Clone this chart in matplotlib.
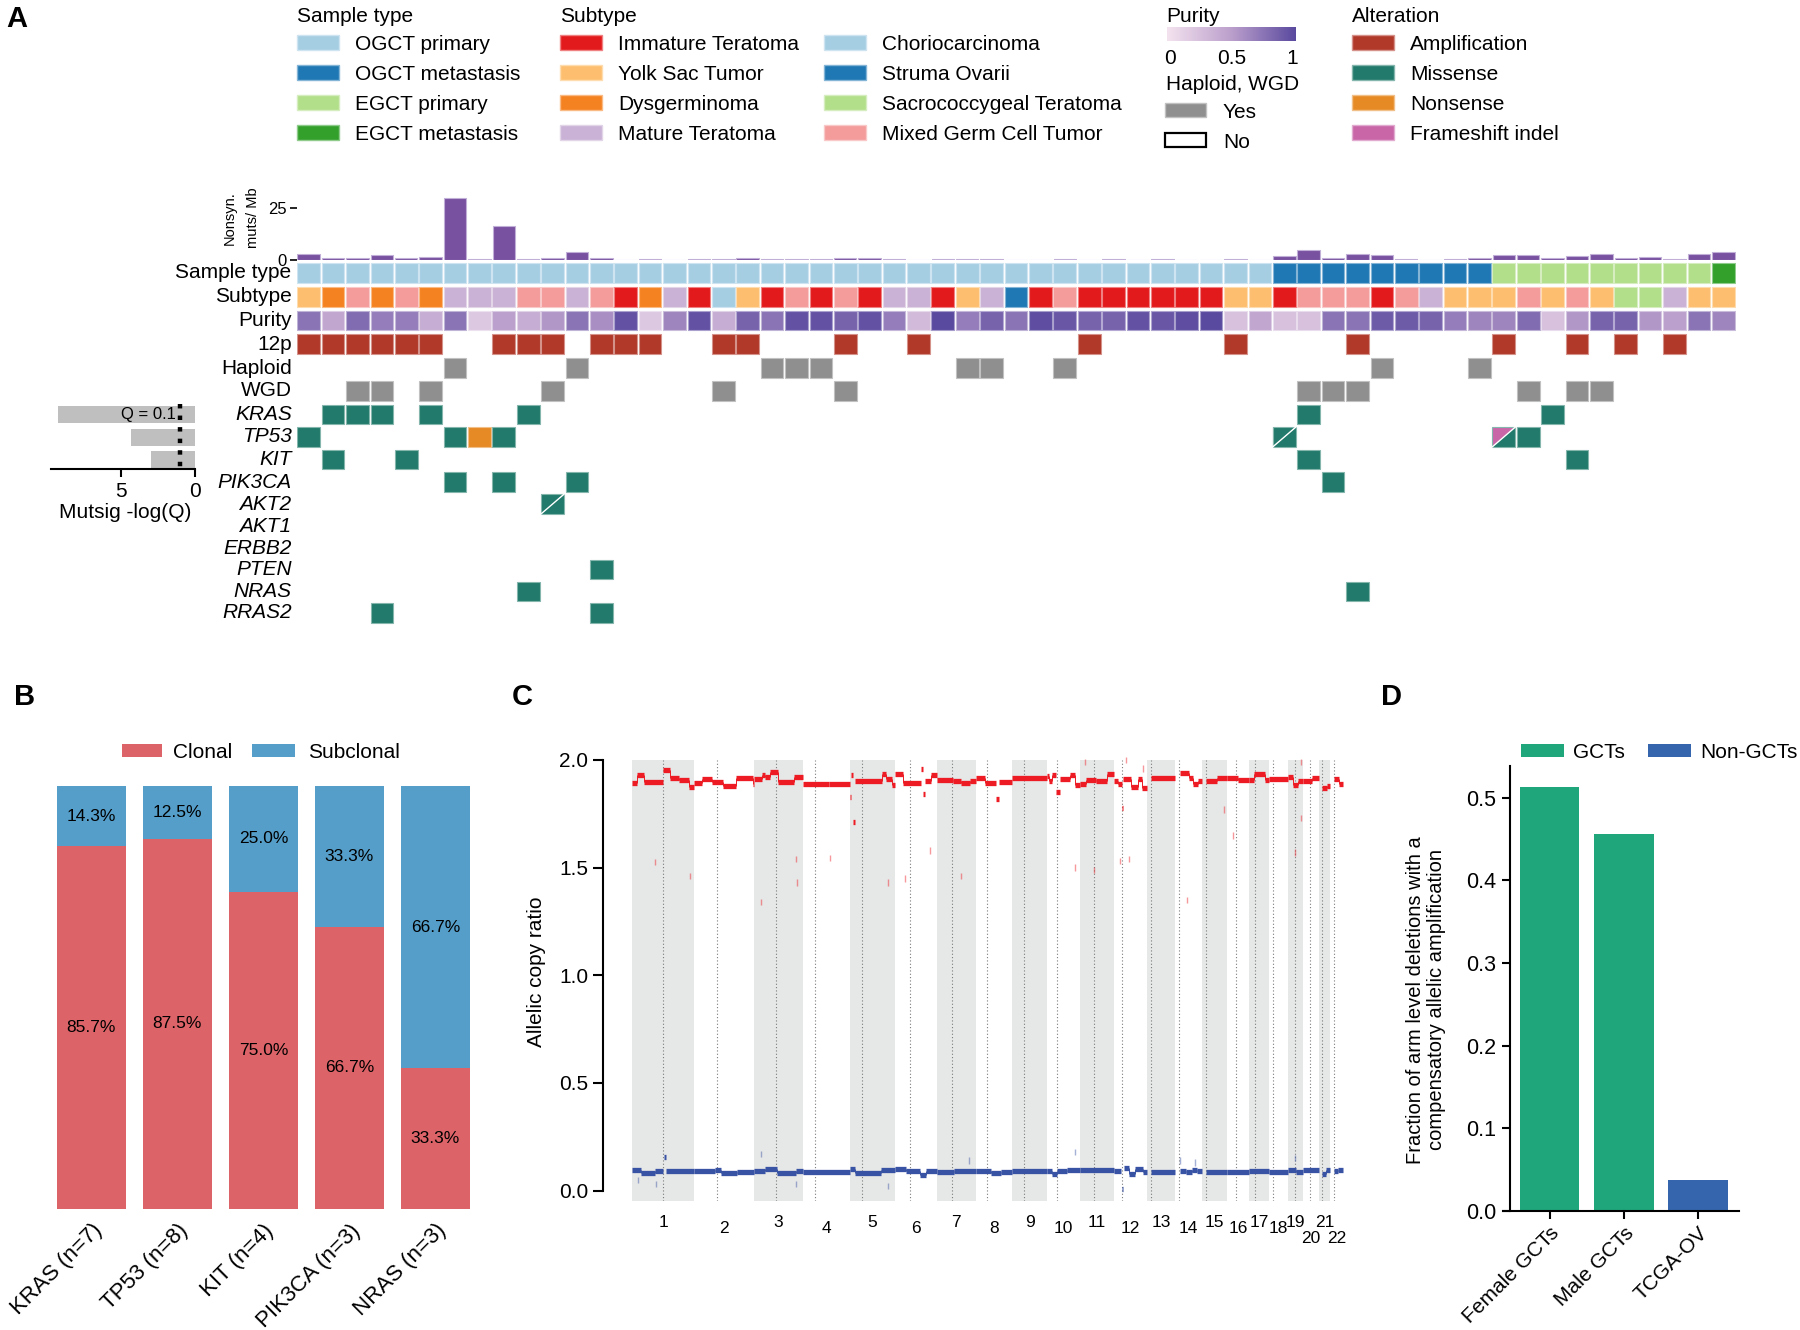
import numpy as np
import matplotlib
matplotlib.use("Agg")
import matplotlib.pyplot as plt
from matplotlib.patches import Rectangle, Polygon
from matplotlib.colors import LinearSegmentedColormap, to_rgb

plt.rcParams['font.family'] = ['Liberation Sans', 'DejaVu Sans']
plt.rcParams['axes.linewidth'] = 1.5

W, H = 1800, 1330

# ---------------- Panel A: oncoprint data ----------------
n_samples = 59
sample_type = ['OP'] * 40 + ['OM'] * 9 + ['EP'] * 9 + ['EM']
subtype = ['YS', 'DG', 'MG', 'DG', 'MG', 'DG', 'MT', 'MT', 'MT', 'MG',
           'MG', 'MT', 'MG', 'IT', 'DG', 'MT', 'IT', 'CC', 'YS', 'IT',
           'MG', 'IT', 'MG', 'IT', 'MT', 'MT', 'IT', 'YS', 'MT', 'SO',
           'IT', 'MG', 'IT', 'IT', 'IT', 'IT', 'IT', 'IT', 'YS', 'YS',
           'IT', 'MG', 'MG', 'MG', 'IT', 'MG', 'MT', 'YS', 'YS', 'YS',
           'MG', 'YS', 'MG', 'YS', 'ST', 'ST', 'MT', 'YS', 'YS']
purity = [0.75, 0.45, 0.8, 0.7, 0.7, 0.4, 0.75, 0.2, 0.5, 0.4,
          0.55, 0.75, 0.6, 0.95, 0.2, 0.65, 0.95, 0.4, 0.85, 0.75,
          0.95, 0.95, 0.85, 0.95, 0.7, 0.3, 1.0, 0.7, 0.85, 0.75,
          0.98, 0.92, 0.85, 0.85, 0.95, 0.92, 0.98, 1.0, 0.25, 0.45,
          0.25, 0.25, 0.75, 0.75, 0.9, 0.9, 0.85, 0.7, 0.65, 0.65,
          0.8, 0.25, 0.55, 0.85, 0.85, 0.55, 0.5, 0.75, 0.65]
tmb = [3.2, 1.1, 1.0, 2.4, 1.0, 1.4, 30.0, 0.5, 16.7, 0.6,
       0.9, 4.2, 0.9, 0.3, 0.6, 0.2, 0.6, 0.5, 1.1, 0.5,
       0.5, 0.5, 1.1, 1.1, 0.5, 0.2, 0.8, 0.8, 0.8, 0.2,
       0.2, 0.6, 0.2, 0.8, 0.2, 0.5, 0.2, 0.2, 0.6, 0.2,
       1.9, 5.0, 1.0, 3.0, 2.7, 0.5, 0.2, 0.6, 0.9, 2.4,
       2.7, 1.1, 2.2, 3.0, 1.1, 1.8, 0.5, 3.0, 4.0]
# sample numbers (1-based) carrying each event
amp_12p = [1, 2, 3, 4, 5, 6, 9, 10, 11, 13, 14, 15, 18, 19, 23, 26, 33, 39, 44, 50, 53, 55, 57]
haploid = [7, 12, 20, 21, 22, 28, 29, 32, 45, 49]
wgd = [3, 4, 6, 11, 18, 23, 42, 43, 44, 51, 53, 54]
# M = missense, N = nonsense, F = frameshift indel; two letters = two events
kras_mut = [(2, 'M'), (3, 'M'), (4, 'M'), (6, 'M'), (10, 'M'), (42, 'M'), (52, 'M')]
tp53_mut = [(1, 'M'), (7, 'M'), (8, 'N'), (9, 'M'), (41, 'MM'), (50, 'FM'), (51, 'M')]
kit_mut = [(2, 'M'), (5, 'M'), (42, 'M'), (53, 'M')]
pik3ca_mut = [(7, 'M'), (9, 'M'), (12, 'M'), (43, 'M')]
akt2_mut = [(11, 'MM')]
akt1_mut = []
erbb2_mut = []
pten_mut = [(13, 'M')]
nras_mut = [(10, 'M'), (44, 'M')]
rras2_mut = [(4, 'M'), (13, 'M')]
mutsig_genes = ['KRAS', 'TP53', 'KIT']
mutsig_logq = [9.3, 4.35, 3.0]

sample_type_colors = {'OP': '#a6cee3', 'OM': '#1f78b4', 'EP': '#b2df8a', 'EM': '#33a02c'}
sample_type_labels = {'OP': 'OGCT primary', 'OM': 'OGCT metastasis', 'EP': 'EGCT primary', 'EM': 'EGCT metastasis'}
subtype_colors = {'IT': '#e31a1c', 'YS': '#fdbf6f', 'DG': '#f58220', 'MT': '#cab2d6',
                  'CC': '#a6cee3', 'SO': '#1f78b4', 'ST': '#b2df8a', 'MG': '#f49b9b'}
subtype_labels = {'IT': 'Immature Teratoma', 'YS': 'Yolk Sac Tumor', 'DG': 'Dysgerminoma',
                  'MT': 'Mature Teratoma', 'CC': 'Choriocarcinoma', 'SO': 'Struma Ovarii',
                  'ST': 'Sacrococcygeal Teratoma', 'MG': 'Mixed Germ Cell Tumor'}
alt_colors = {'A': '#b0392a', 'M': '#217a6b', 'N': '#e68a26', 'F': '#c966a8'}
gray_yes = '#8f8f8f'
purity_cmap = LinearSegmentedColormap.from_list('purity', ['#f4e3ef', '#bb9fcc', '#5a4a9f'])

# ---------------- Panel B data ----------------
b_genes = ['KRAS (n=7)', 'TP53 (n=8)', 'KIT (n=4)', 'PIK3CA (n=3)', 'NRAS (n=3)']
b_clonal = [85.7, 87.5, 75.0, 66.7, 33.3]
b_subclonal = [14.3, 12.5, 25.0, 33.3, 66.7]

# ---------------- Panel C data (hg19, Mb) ----------------
chrom_len = [249.3, 243.2, 198.0, 191.2, 180.9, 171.1, 159.1, 146.4, 141.2, 135.5, 135.0,
             133.9, 115.2, 107.3, 102.5, 90.4, 81.2, 78.1, 59.1, 63.0, 48.1, 51.3]
centromere = [125.0, 93.3, 91.0, 50.4, 48.4, 61.0, 59.9, 45.6, 49.0, 40.2, 53.7,
              35.8, 17.9, 17.6, 19.0, 36.6, 24.0, 17.2, 26.5, 27.5, 13.2, 14.7]
# (chromosome, start, end, allelic copy ratio)
major_segs = [
    (1, 0, 20, 1.895), (1, 20, 48, 1.929), (1, 48, 122, 1.898), (1, 122, 152, 1.953),
    (1, 152, 190, 1.915), (1, 190, 229, 1.909), (1, 229, 249.3, 1.873),
    (2, 0, 31, 1.895), (2, 31, 75, 1.913), (2, 75, 116, 1.899), (2, 116, 170, 1.879),
    (2, 170, 238, 1.915), (2, 238, 243.2, 1.89),
    (3, 0, 32, 1.912), (3, 32, 45, 1.93), (3, 45, 65, 1.92), (3, 65, 97, 1.945),
    (3, 97, 164, 1.897), (3, 164, 198, 1.923),
    (4, 0, 105, 1.888), (4, 105, 191.2, 1.89),
    (5, 0, 5, 1.83), (5, 5, 13, 1.93), (5, 13, 20, 1.71), (5, 20, 129, 1.90),
    (5, 129, 147, 1.935), (5, 147, 172, 1.913), (5, 172, 180.9, 1.886),
    (6, 0, 34, 1.937), (6, 34, 106, 1.891), (6, 106, 114, 1.96), (6, 114, 122, 1.84),
    (6, 122, 149, 1.90), (6, 149, 171.1, 1.93),
    (7, 0, 65, 1.907), (7, 65, 100, 1.90), (7, 100, 133, 1.895), (7, 133, 159.1, 1.90),
    (8, 0, 38, 1.914), (8, 38, 82, 1.893), (8, 82, 92, 1.82), (8, 92, 146.4, 1.897),
    (9, 0, 141.2, 1.915),
    (10, 0, 10, 1.925), (10, 10, 22, 1.90), (10, 22, 36, 1.93), (10, 36, 55, 1.85),
    (10, 55, 95, 1.91), (10, 95, 115, 1.93), (10, 115, 135.5, 1.886),
    (11, 0, 23, 1.89), (11, 23, 62, 1.906), (11, 62, 108, 1.90), (11, 108, 135, 1.933),
    (12, 0, 18, 1.90), (12, 18, 34, 1.89), (12, 34, 38, 1.775), (12, 38, 70, 1.91),
    (12, 70, 97, 1.875), (12, 97, 115, 1.91), (12, 115, 133.9, 1.868),
    (13, 19, 115.2, 1.914),
    (14, 19, 55, 1.94), (14, 55, 73, 1.915), (14, 73, 91, 1.89), (14, 91, 107.3, 1.90),
    (15, 20, 63, 1.90), (15, 63, 102.5, 1.917),
    (16, 0, 45, 1.915), (16, 45, 90.4, 1.905),
    (17, 0, 18, 1.905), (17, 18, 65, 1.933), (17, 65, 81.2, 1.905),
    (18, 0, 78.1, 1.91),
    (19, 0, 20, 1.92), (19, 20, 40, 1.885), (19, 40, 59.1, 1.90),
    (20, 0, 38, 1.90), (20, 38, 63.0, 1.915),
    (21, 14, 35, 1.868), (21, 35, 48.1, 1.88),
    (22, 16, 33, 1.91), (22, 33, 51.3, 1.89),
]
minor_segs = [
    (1, 0, 35, 0.096), (1, 35, 93, 0.083), (1, 93, 123, 0.092), (1, 128, 136, 0.157),
    (1, 136, 249.3, 0.09),
    (2, 0, 85, 0.09), (2, 85, 110, 0.097), (2, 110, 175, 0.083), (2, 175, 243.2, 0.088),
    (3, 0, 45, 0.09), (3, 45, 95, 0.098), (3, 95, 169, 0.083), (3, 169, 198, 0.092),
    (4, 0, 191.2, 0.086),
    (5, 0, 20, 0.10), (5, 20, 126, 0.083), (5, 126, 180.9, 0.097),
    (6, 0, 47, 0.10), (6, 47, 103, 0.09), (6, 103, 126, 0.073), (6, 126, 171.1, 0.092),
    (7, 0, 70, 0.088), (7, 70, 159.1, 0.093),
    (8, 0, 60, 0.092), (8, 60, 100, 0.082), (8, 100, 146.4, 0.088),
    (9, 0, 141.2, 0.09),
    (10, 0, 20, 0.093), (10, 20, 40, 0.078), (10, 40, 80, 0.09), (10, 80, 135.5, 0.095),
    (11, 0, 135, 0.097),
    (12, 0, 28, 0.092), (12, 32, 36, 0.005), (12, 40, 62, 0.105), (12, 62, 85, 0.077),
    (12, 85, 120, 0.10), (12, 120, 133.9, 0.088),
    (13, 19, 115.2, 0.084),
    (14, 19, 45, 0.092), (14, 45, 70, 0.085), (14, 70, 90, 0.095), (14, 90, 107.3, 0.09),
    (15, 20, 102.5, 0.086),
    (16, 0, 90.4, 0.088),
    (17, 0, 81.2, 0.092),
    (18, 0, 78.1, 0.088),
    (19, 0, 30, 0.095), (19, 30, 59.1, 0.085),
    (20, 0, 63.0, 0.095),
    (21, 14, 30, 0.075), (21, 30, 48.1, 0.095),
    (22, 16, 30, 0.09), (22, 30, 51.3, 0.095),
]
# isolated low-confidence probes (chromosome, position, value)
major_faint = [(1, 93, 1.526), (1, 233, 1.46), (3, 30, 1.34), (3, 169, 1.54), (3, 174, 1.43),
               (4, 109, 1.545), (5, 153, 1.43), (6, 41, 1.45), (6, 145, 1.58), (7, 98, 1.46),
               (10, 115, 1.50), (11, 55, 1.49), (12, 25, 1.53), (12, 64, 1.54), (14, 48, 1.35),
               (15, 90, 1.77), (16, 25, 1.65), (19, 25, 1.57), (19, 52, 1.73), (11, 20, 1.99),
               (12, 50, 2.0), (19, 50, 1.99), (12, 120, 1.96)]
minor_faint = [(1, 95, 0.03), (1, 23, 0.05), (3, 30, 0.17), (3, 169, 0.03), (5, 153, 0.02),
               (7, 130, 0.14), (10, 115, 0.18), (14, 20, 0.14), (14, 80, 0.13), (19, 27, 0.15)]

# ---------------- Panel D data ----------------
d_groups = ['Female GCTs', 'Male GCTs', 'TCGA-OV']
d_values = [0.513, 0.456, 0.038]
d_kind = ['GCTs', 'GCTs', 'Non-GCTs']
d_colors = {'GCTs': '#1fa67a', 'Non-GCTs': '#3566ad'}


def px_axes(fig, x0, y0, x1, y1):
    ax = fig.add_axes([x0 / W, 1 - y1 / H, (x1 - x0) / W, (y1 - y0) / H])
    ax.patch.set_visible(False)
    return ax


def lighten(c, f=0.45):
    r, g, b = to_rgb(c)
    return (r + (1 - r) * f, g + (1 - g) * f, b + (1 - b) * f)


CELL_H = 19.5   # cell height in pixels
CELL_W = 0.93   # fraction of a column


def cell(ax, i, yc, color):
    x0 = i + (1 - CELL_W) / 2
    ax.add_patch(Rectangle((x0, yc - CELL_H / 2), CELL_W, CELL_H, facecolor=color,
                           edgecolor=lighten(color), lw=0.8))


def split_cell(ax, i, yc, c_upper, c_lower):
    x0 = i + (1 - CELL_W) / 2
    x1 = x0 + CELL_W
    yt = yc - CELL_H / 2
    yb = yc + CELL_H / 2
    ax.add_patch(Polygon([(x0, yt), (x1, yt), (x0, yb)], closed=True, facecolor=c_upper,
                         edgecolor='none'))
    ax.add_patch(Polygon([(x1, yt), (x1, yb), (x0, yb)], closed=True, facecolor=c_lower,
                         edgecolor='none'))
    ax.add_patch(Rectangle((x0, yt), CELL_W, CELL_H, facecolor='none',
                           edgecolor=lighten(c_lower), lw=0.8))
    ax.plot([x0, x1], [yb, yt], color='white', lw=1.0)


fig = plt.figure(figsize=(W / 100, H / 100), dpi=100)

# ======================= Panel A =======================
row_names = ['Sample type', 'Subtype', 'Purity', '12p', 'Haploid', 'WGD',
             'KRAS', 'TP53', 'KIT', 'PIK3CA', 'AKT2', 'AKT1', 'ERBB2', 'PTEN', 'NRAS', 'RRAS2']
# vertical centre of each track, in figure pixels (layout)
row_y = [273, 297, 320.5, 344, 368, 391, 414.5, 437, 459.5, 482, 504, 526, 548, 569.5, 591.5, 613]
gene_rows = {'KRAS': kras_mut, 'TP53': tp53_mut, 'KIT': kit_mut, 'PIK3CA': pik3ca_mut,
             'AKT2': akt2_mut, 'AKT1': akt1_mut, 'ERBB2': erbb2_mut, 'PTEN': pten_mut,
             'NRAS': nras_mut, 'RRAS2': rras2_mut}

Y_TOP, Y_BOT = 258.0, 628.0
ax_onc = px_axes(fig, 296.5, Y_TOP, 1735.5, Y_BOT)
ax_onc.set_xlim(0, n_samples)
ax_onc.set_ylim(Y_BOT, Y_TOP)
ax_onc.axis('off')

for i in range(n_samples):
    cell(ax_onc, i, row_y[0], sample_type_colors[sample_type[i]])
    cell(ax_onc, i, row_y[1], subtype_colors[subtype[i]])
    cell(ax_onc, i, row_y[2], purity_cmap(purity[i]))
for s in amp_12p:
    cell(ax_onc, s - 1, row_y[3], alt_colors['A'])
for s in haploid:
    cell(ax_onc, s - 1, row_y[4], gray_yes)
for s in wgd:
    cell(ax_onc, s - 1, row_y[5], gray_yes)
for r, name in enumerate(row_names):
    if name in gene_rows:
        for s, kind in gene_rows[name]:
            if len(kind) == 1:
                cell(ax_onc, s - 1, row_y[r], alt_colors[kind])
            else:
                split_cell(ax_onc, s - 1, row_y[r], alt_colors[kind[0]], alt_colors[kind[1]])
        style = 'italic'
    else:
        style = 'normal'
    ax_onc.text(-0.2, row_y[r], name, ha='right', va='center', fontsize=15, style=style)

# mutation burden bars
ax_tmb = px_axes(fig, 296.5, 195.8, 1735.5, 260.3)
ax_tmb.bar(np.arange(n_samples) + 0.5, tmb, width=0.92, color='#7851a0',
           edgecolor='#c2afd8', lw=0.8)
ax_tmb.set_xlim(0, n_samples)
ax_tmb.set_ylim(0, 31)
for sp in ax_tmb.spines.values():
    sp.set_visible(False)
ax_tmb.set_xticks([])
ax_tmb.set_yticks([0, 25])
ax_tmb.tick_params(axis='y', labelsize=12, length=5, width=1.2, pad=2)

# Mutsig significance bars
ax_m = px_axes(fig, 51.3, Y_TOP, 195, Y_BOT)
gene_y = [row_y[row_names.index(g)] for g in mutsig_genes]
ax_m.barh(gene_y, mutsig_logq, height=17, color='#bfbfbf')
ax_m.set_xlim(9.77, 0)
ax_m.set_ylim(Y_BOT, Y_TOP)
ax_m.plot([1, 1], [403.5, 469], color='black', lw=3.2, linestyle=(0, (1, 1.6)))
ax_m.text(1.3, gene_y[0], 'Q = 0.1', ha='right', va='center', fontsize=12)
for k in ['left', 'right', 'top']:
    ax_m.spines[k].set_visible(False)
ax_m.spines['bottom'].set_position(('data', 469))
ax_m.set_yticks([])
ax_m.set_xticks([5, 0])
ax_m.tick_params(axis='x', labelsize=15, length=6, width=1.5)

# ======================= Panel B =======================
ax_b = px_axes(fig, 48.3, 786, 478.5, 1209)
xb = np.arange(len(b_genes))
ax_b.bar(xb, b_clonal, width=0.8, color='#dc6368')
ax_b.bar(xb, b_subclonal, width=0.8, bottom=b_clonal, color='#549ec9')
for k in range(len(b_genes)):
    ax_b.text(xb[k], b_clonal[k] / 2, f'{b_clonal[k]:.1f}%', ha='center', va='center', fontsize=12.5)
    ax_b.text(xb[k], b_clonal[k] + b_subclonal[k] / 2, f'{b_subclonal[k]:.1f}%',
              ha='center', va='center', fontsize=12.5)
ax_b.set_xlim(-0.5, len(b_genes) - 0.5)
ax_b.set_ylim(0, 100)
for sp in ax_b.spines.values():
    sp.set_visible(False)
ax_b.set_yticks([])
ax_b.set_xticks(xb)
ax_b.set_xticklabels(b_genes, rotation=45, ha='right', rotation_mode='anchor', fontsize=16)
ax_b.tick_params(axis='x', length=0, pad=8)

# ======================= Panel C =======================
offsets = np.concatenate([[0], np.cumsum(chrom_len)[:-1]])
genome_len = float(np.sum(chrom_len))
ax_c = px_axes(fig, 603, 753.5, 1345, 1201.3)
ax_c.set_xlim(-119.6, genome_len + 8)
ax_c.set_ylim(-0.05, 2.03)
for c in range(22):
    if c % 2 == 0:
        ax_c.add_patch(Rectangle((offsets[c], -0.05), chrom_len[c], 2.05,
                                 facecolor='#e6e7e7', edgecolor='none', zorder=0))
    ax_c.vlines(offsets[c] + centromere[c], -0.05, 2.0, color='#7a7a7a', lw=0.8,
                linestyle=(0, (1, 2)), zorder=1)


def draw_segments(ax, segs, color):
    for c in range(1, 23):
        s = [seg for seg in segs if seg[0] == c]
        for k, (_, a, b, v) in enumerate(s):
            ax.hlines(v, offsets[c - 1] + a, offsets[c - 1] + b, color=color, lw=3.8, zorder=3)
            # thin joins only between neighbouring segments of similar level
            if k > 0 and abs(s[k - 1][3] - v) < 0.05 and s[k - 1][2] == a:
                ax.vlines(offsets[c - 1] + a, s[k - 1][3], v, color=color, lw=0.7, zorder=3)


def draw_faint(ax, probes, color):
    for c, p, v in probes:
        ax.vlines(offsets[c - 1] + p, v - 0.015, v + 0.015, color=color, lw=1.0, alpha=0.45, zorder=2)


draw_faint(ax_c, major_faint, '#ed1c24')
draw_faint(ax_c, minor_faint, '#3953a4')
draw_segments(ax_c, major_segs, '#ed1c24')
draw_segments(ax_c, minor_segs, '#3953a4')

for sp in ['top', 'right', 'bottom']:
    ax_c.spines[sp].set_visible(False)
ax_c.spines['left'].set_bounds(0, 2)
ax_c.set_xticks([])
ax_c.set_yticks([0, 0.5, 1.0, 1.5, 2.0])
ax_c.set_yticklabels(['0.0', '0.5', '1.0', '1.5', '2.0'])
ax_c.tick_params(axis='y', labelsize=15, length=7, width=1.5)
for c in range(22):
    if c + 1 in (20, 22):
        yl = -0.223
    elif c % 2 == 0:
        yl = -0.148
    else:
        yl = -0.178
    ax_c.text(offsets[c] + chrom_len[c] / 2, yl, str(c + 1), ha='center', va='center', fontsize=12.5)

# ======================= Panel D =======================
ax_d = px_axes(fig, 1503, 765.5, 1739, 1211)
xd = np.arange(len(d_groups))
ax_d.bar(xd, d_values, width=0.8, color=[d_colors[k] for k in d_kind])
ax_d.set_xlim(-0.63, 2.55)
ax_d.set_ylim(0, 0.539)
ax_d.spines['top'].set_visible(False)
ax_d.spines['right'].set_visible(False)
ax_d.spines['left'].set_position(('data', -0.54))
ax_d.set_yticks([0, 0.1, 0.2, 0.3, 0.4, 0.5])
ax_d.set_yticklabels(['0.0', '0.1', '0.2', '0.3', '0.4', '0.5'])
ax_d.set_xticks(xd)
ax_d.set_xticklabels(d_groups, rotation=45, ha='right', rotation_mode='anchor', fontsize=15)
ax_d.tick_params(axis='y', labelsize=15.5, length=6, width=1.5)
ax_d.tick_params(axis='x', length=6, width=1.5, pad=3)

# ======================= Overlay: legends, labels =======================
ov = fig.add_axes([0, 0, 1, 1])
ov.set_xlim(0, W)
ov.set_ylim(H, 0)
ov.axis('off')

for letter, (lx, ly) in {'A': (6, 19), 'B': (14, 697), 'C': (512, 697), 'D': (1381, 697)}.items():
    ov.text(lx, ly, letter, fontsize=21, fontweight='bold', ha='left', va='center')

legend_dy = 29.8
legend_y0 = 14


def legend_block(x, title, items, text_dx=58):
    if title:
        ov.text(x, legend_y0, title, fontsize=15, ha='left', va='center_baseline')
    for k, (lab, col) in enumerate(items):
        yy = legend_y0 + (k + 1) * legend_dy - 1.0
        ov.add_patch(Rectangle((x, yy - 7.5), 42, 15, facecolor=col, edgecolor=lighten(col), lw=1))
        ov.text(x + text_dx, yy, lab, fontsize=15, ha='left', va='center_baseline')


legend_block(297, 'Sample type', [(sample_type_labels[k], sample_type_colors[k]) for k in ['OP', 'OM', 'EP', 'EM']])
legend_block(560, 'Subtype', [(subtype_labels[k], subtype_colors[k]) for k in ['IT', 'YS', 'DG', 'MT']])
legend_block(824, None, [(subtype_labels[k], subtype_colors[k]) for k in ['CC', 'SO', 'ST', 'MG']])
legend_block(1352, 'Alteration', [('Amplification', alt_colors['A']), ('Missense', alt_colors['M']),
                                  ('Nonsense', alt_colors['N']), ('Frameshift indel', alt_colors['F'])])

# purity legend
ov.text(1166, legend_y0, 'Purity', fontsize=15, ha='left', va='center_baseline')
ax_cb = px_axes(fig, 1167, 26.7, 1296, 41)
ax_cb.imshow(np.linspace(0, 1, 256)[None, :], cmap=purity_cmap, aspect='auto')
ax_cb.axis('off')
for val, tx in [('0', 1170), ('0.5', 1232), ('1', 1292)]:
    ov.text(tx, 56, val, fontsize=15, ha='center', va='center_baseline')
ov.text(1166, 82, 'Haploid, WGD', fontsize=15, ha='left', va='center_baseline')
ov.add_patch(Rectangle((1165, 103), 41, 14, facecolor=gray_yes, edgecolor=lighten(gray_yes), lw=1))
ov.text(1223, 111, 'Yes', fontsize=15, ha='left', va='center_baseline')
ov.add_patch(Rectangle((1165, 133), 41, 14, facecolor='white', edgecolor='black', lw=1.6))
ov.text(1223, 141, 'No', fontsize=15, ha='left', va='center_baseline')

# panel A axis labels (two rotated lines)
ov.text(230, 218, 'Nonsyn.', rotation=90, fontsize=10.5, ha='center', va='center')
ov.text(253, 218, 'muts/ Mb', rotation=90, fontsize=10.5, ha='center', va='center')
ov.text(125, 513, 'Mutsig -log(Q)', fontsize=15, ha='center', va='center')

# panel B legend
ov.add_patch(Rectangle((122, 744), 40, 13, facecolor='#dc6368', edgecolor='none'))
ov.text(173, 750, 'Clonal', fontsize=15, ha='left', va='center_baseline')
ov.add_patch(Rectangle((252, 744), 43, 13, facecolor='#549ec9', edgecolor='none'))
ov.text(308, 750, 'Subclonal', fontsize=15, ha='left', va='center_baseline')

# panel C y label
ov.text(536, 972, 'Allelic copy ratio', rotation=90, fontsize=15, ha='center', va='center')

# panel D legend and y label
ov.add_patch(Rectangle((1521, 744), 43, 13, facecolor=d_colors['GCTs'], edgecolor='none'))
ov.text(1573, 750, 'GCTs', fontsize=15, ha='left', va='center_baseline')
ov.add_patch(Rectangle((1648, 744), 43, 13, facecolor=d_colors['Non-GCTs'], edgecolor='none'))
ov.text(1700, 750, 'Non-GCTs', fontsize=15, ha='left', va='center_baseline')
ov.text(1426, 1000, 'Fraction of arm level deletions with a\ncompensatory allelic amplification',
        rotation=90, fontsize=14.5, ha='center', va='center', linespacing=1.15)

fig.savefig('out.png', dpi=100)
